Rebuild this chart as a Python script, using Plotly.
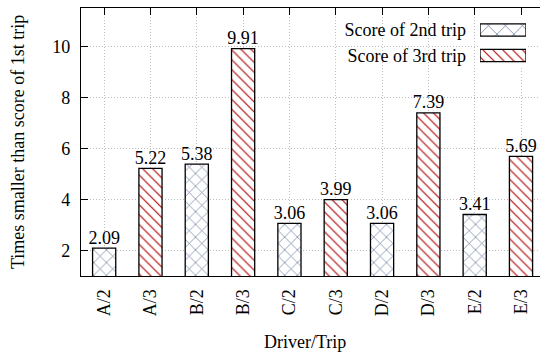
import plotly.graph_objects as go

# Ratio of first-trip score to later trip scores, per driver/trip
categories = ["A/2", "A/3", "B/2", "B/3", "C/2", "C/3", "D/2", "D/3", "E/2", "E/3"]
trip2_labels = ["A/2", "B/2", "C/2", "D/2", "E/2"]
trip2_values = [2.09, 5.38, 3.06, 3.06, 3.41]
trip3_labels = ["A/3", "B/3", "C/3", "D/3", "E/3"]
trip3_values = [5.22, 9.91, 3.99, 7.39, 5.69]
series_names = ["Score of 2nd trip", "Score of 3rd trip"]
y_ticks = [2, 4, 6, 8, 10]

SERIF = "Liberation Serif"
FS = 18
BLUE = "#7085a2"
RED = "#b00000"
GRID = "#bdbdbd"

W, H = 540, 353
L, R, T, B = 81, 0, 8, 77
plot_w = W - L - R
plot_h = H - T - B


def px_x(p):
    return (p - L) / plot_w


def px_y(p):
    return (H - B - p) / plot_h


def bar_marker(shape, color, size, solidity):
    return dict(
        color="white",
        line=dict(color="black", width=1.3),
        pattern=dict(shape=shape, fgcolor=color, fgopacity=1, bgcolor="white",
                     fillmode="overlay", size=size, solidity=solidity),
    )


label_font = dict(family=SERIF, size=FS, color="black")

fig = go.Figure()

fig.add_trace(go.Bar(
    x=trip2_labels, y=trip2_values, width=0.5,
    marker=bar_marker("x", BLUE, 9, 0.16),
    showlegend=False,
))
fig.add_trace(go.Bar(
    x=trip3_labels, y=trip3_values, width=0.5,
    marker=bar_marker("\\", RED, 7, 0.16),
    showlegend=False,
))

# Value labels sitting on top of each bar
for labels, values in ((trip2_labels, trip2_values), (trip3_labels, trip3_values)):
    fig.add_trace(go.Scatter(
        x=labels, y=values, mode="text",
        text=[f"{v:.2f}" for v in values], textposition="top center",
        textfont=label_font, cliponaxis=False, showlegend=False,
        hoverinfo="skip",
    ))

# Key: one swatch per series on its own small axis pair, labelled by tick text
fig.add_trace(go.Bar(
    y=[series_names[0]], x=[1], orientation="h", width=0.48,
    marker=bar_marker("x", BLUE, 12, 0.13), xaxis="x2", yaxis="y3",
    showlegend=False, hoverinfo="skip",
))
fig.add_trace(go.Bar(
    y=[series_names[1]], x=[1], orientation="h", width=0.48,
    marker=bar_marker("\\", RED, 7, 0.16), xaxis="x2", yaxis="y3",
    showlegend=False, hoverinfo="skip",
))

fig.update_layout(
    width=W, height=H,
    margin=dict(l=L, r=R, t=T, b=B, pad=0),
    paper_bgcolor="white", plot_bgcolor="white",
    barmode="overlay",
    font=dict(family=SERIF, size=FS, color="black"),
    xaxis=dict(
        type="category", categoryorder="array", categoryarray=categories,
        range=[-0.5, 9.41],
        showline=True, linecolor="black", linewidth=1.3, mirror="ticks",
        ticks="inside", ticklen=7, tickcolor="black", tickwidth=1.2,
        tickangle=-90, ticklabelstandoff=5,
        showgrid=True, gridcolor=GRID, griddash="1px,2px", gridwidth=1,
        layer="below traces",
        tickfont=dict(family=SERIF, size=FS),
    ),
    yaxis=dict(
        range=[1, 11.5], tickvals=y_ticks,
        showline=True, linecolor="black", linewidth=1.3,
        ticks="inside", ticklen=7, tickcolor="black", tickwidth=1.2,
        showgrid=True, gridcolor=GRID, griddash="1px,2px", gridwidth=1,
        zeroline=False, ticklabelstandoff=6,
        tickfont=dict(family=SERIF, size=FS),
    ),
    yaxis2=dict(
        overlaying="y", side="right", anchor="x",
        range=[1, 11.5], tickvals=y_ticks,
        ticks="inside", ticklen=7, tickcolor="black", tickwidth=1.2,
        showticklabels=False, showgrid=False, zeroline=False, showline=False,
    ),
    xaxis2=dict(
        domain=[px_x(480), px_x(526)], anchor="y3", range=[0, 1],
        visible=False, fixedrange=True,
    ),
    yaxis3=dict(
        domain=[px_y(68.25), px_y(17.25)], anchor="x2",
        type="category", categoryorder="array",
        categoryarray=[series_names[1], series_names[0]],
        range=[-0.5, 1.5],
        showgrid=False, zeroline=False, showline=False, ticks="",
        ticklabelstandoff=13, tickfont=dict(family=SERIF, size=FS),
    ),
    annotations=[
        dict(text="Times smaller than score of 1st trip", textangle=-90,
             xref="paper", yref="paper", x=0, y=0.5, xshift=-63,
             xanchor="center", yanchor="middle", showarrow=False,
             font=dict(family=SERIF, size=FS)),
        dict(text="Driver/Trip",
             xref="paper", yref="paper", x=px_x(305), y=0, yshift=-66,
             xanchor="center", yanchor="middle", showarrow=False,
             font=dict(family=SERIF, size=FS)),
    ],
)

fig.write_html("out.html")
